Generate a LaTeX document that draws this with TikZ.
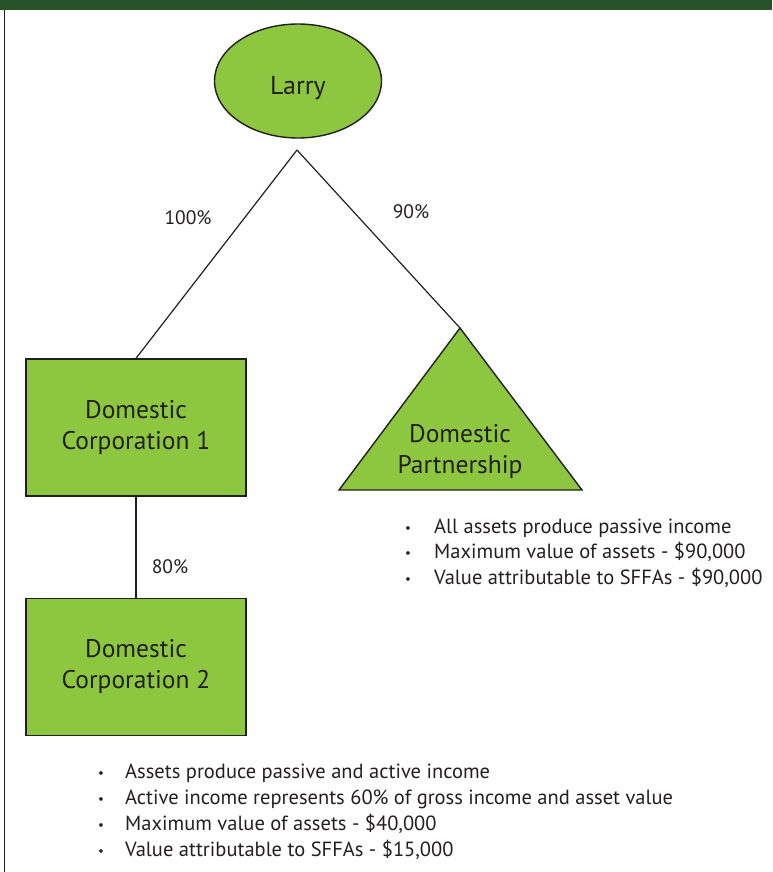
\documentclass[tikz,border=0pt]{standalone}
\usepackage{fontspec}
\setmainfont{PT Sans}
\usetikzlibrary{shapes.geometric}
\definecolor{leaf}{HTML}{8DC63F}
\definecolor{darkbar}{HTML}{265328}
\definecolor{ink}{HTML}{231F20}
\begin{document}
\begin{tikzpicture}[x=1pt,y=-1pt,
  shapeline/.style={draw=ink,line width=1.4pt,fill=leaf},
  boxnode/.style={shapeline,rectangle,minimum width=220pt,minimum height=137pt,align=center,font=\fontsize{25.5}{31}\selectfont,text=ink,inner sep=0pt},
  conn/.style={draw=ink,line width=1.2pt},
  pct/.style={font=\fontsize{19.5}{22}\selectfont,text=ink},
  bul/.style={anchor=base west,font=\fontsize{20.5}{22}\selectfont,text=ink,inner sep=0pt},
  dotmark/.style={anchor=base west,font=\fontsize{13}{14}\selectfont,text=ink,inner sep=0pt}]
\useasboundingbox (0,0) rectangle (772,872);
\fill[darkbar] (0,0) rectangle (772,10);
\draw[ink,line width=1pt] (4,10) -- (4,872);
% nodes
\node[shapeline,ellipse,minimum width=167pt,minimum height=114pt,inner sep=0pt,font=\fontsize{26}{30}\selectfont,text=ink,text height=28pt,text depth=0pt] (larry) at (298,81) {Larry};
\coordinate (split) at (297,150);
\node[boxnode] (corp1) at (136,427.5) {Domestic\\Corporation 1};
\node[boxnode] (corp2) at (136,667) {Domestic\\Corporation 2};
\coordinate (papex) at (460,328);
\coordinate (pleft) at (339,490);
\coordinate (pright) at (582,490);
\draw[shapeline,line join=miter] (papex) -- (pleft) -- (pright) -- cycle;
\node[align=center,font=\fontsize{25.5}{31}\selectfont,text=ink,inner sep=0pt] (part) at (460,452) {Domestic\\Partnership};
% connectors
\draw[conn] (split) -- (corp1.north);
\draw[conn] (split) -- (papex);
\draw[conn] (corp1.south) -- (corp2.north);
% labels
\node[pct] (l100) at (188,218) {100\%};
\node[pct] (l90) at (411,212) {90\%};
\node[pct] (l80) at (170,567) {80\%};
% partnership bullets
\foreach \y/\t in {533/{All assets produce passive income},558/{Maximum value of assets - \$90,000},584/{Value attributable to SFFAs - \$90,000}}{
  \node[dotmark] at (405,\y-1) {•};
  \node[bul] at (434,\y) {\t};
}
% corp2 bullets
\foreach \y/\t in {778/{Assets produce passive and active income},804/{Active income represents 60\% of gross income and asset value},830/{Maximum value of assets - \$40,000},856/{Value attributable to SFFAs - \$15,000}}{
  \node[dotmark] at (98,\y-1) {•};
  \node[bul] at (125,\y) {\t};
}
\end{tikzpicture}
\end{document}
